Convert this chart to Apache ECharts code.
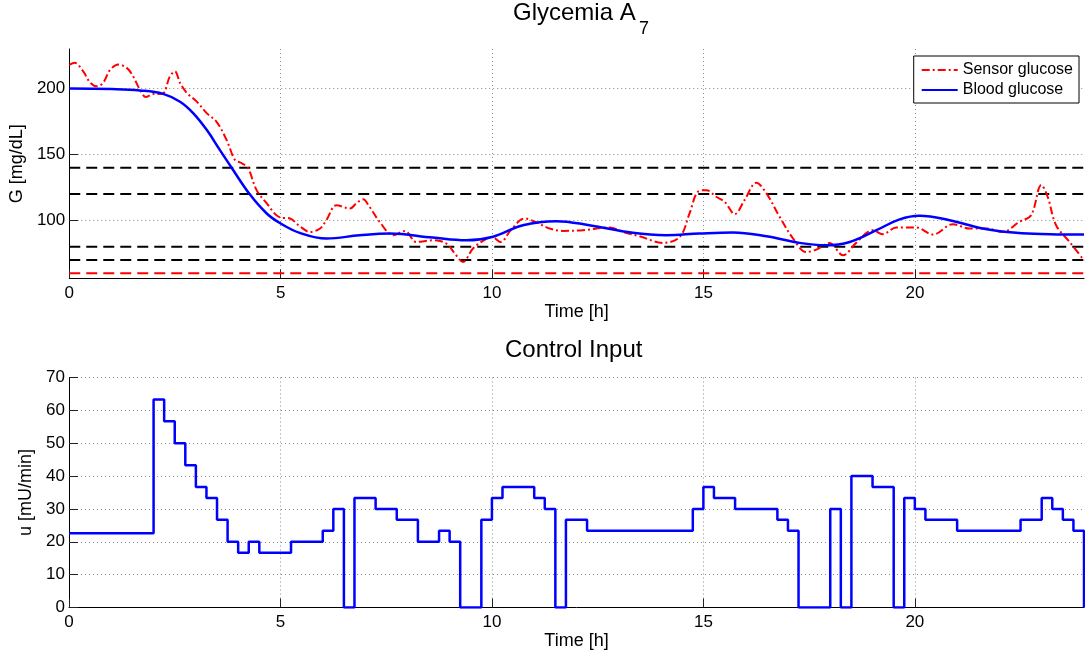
<!DOCTYPE html>
<html>
<head>
<meta charset="utf-8">
<script src="https://cdn.jsdelivr.net/npm/echarts@6/dist/echarts.min.js"></script>
<style>html,body{margin:0;padding:0;background:#fff}#c{width:1085px;height:657px}</style>
</head>
<body>
<div id="c"></div>
<script>
// ---- data ----
const timeTicks = [0, 5, 10, 15, 20];
const glucoseTicks = [100, 150, 200];
const blackThresholds = [70, 80, 120, 140];
const redThresholds = [60];

const bloodT = [0, 1.0, 1.67, 2.22, 2.62, 2.93, 3.25, 3.56, 3.84, 4.27, 4.67, 5.0, 5.45, 6.08, 6.87, 7.58, 8.6, 9.39, 10.0, 10.73, 11.52, 12.3, 13.33, 14.12, 14.9, 15.7, 16.49, 17.27, 17.9, 18.46, 19.09, 19.64, 20.11, 20.82, 21.6, 22.4, 23.2, 24];
const bloodG = [200, 199.6, 198.6, 196, 190, 181.4, 168.7, 153.5, 140, 119.8, 105.3, 97.7, 90.6, 86.3, 88.8, 90.1, 87, 85, 87.5, 96.4, 99.5, 96.4, 90.6, 88.8, 90.1, 90.9, 88, 83, 81.2, 83.7, 92.6, 100.8, 103.5, 100.2, 93.9, 90.6, 89.6, 89.3];

const sensorT = [0, 0.13, 0.33, 0.49, 0.65, 0.8, 0.96, 1.16, 1.36, 1.51, 1.67, 1.81, 1.99, 2.2, 2.38, 2.5, 2.62, 2.78, 3.01, 3.25, 3.48, 3.72, 3.92, 4.08, 4.23, 4.43, 4.67, 4.98, 5.22, 5.45, 5.69, 5.93, 6.08, 6.32, 6.64, 6.79, 6.95, 7.1, 7.34, 7.66, 7.94, 8.21, 8.6, 8.92, 9.12, 9.31, 9.55, 9.87, 10.0, 10.2, 10.45, 10.77, 11.05, 11.36, 11.68, 12.15, 12.78, 13.1, 13.49, 14.04, 14.44, 14.67, 14.87, 15.07, 15.3, 15.5, 15.74, 15.97, 16.25, 16.49, 16.8, 17.12, 17.43, 17.67, 17.98, 18.3, 18.61, 19.0, 19.24, 19.56, 20.03, 20.43, 20.9, 21.29, 21.69, 22.08, 22.47, 22.75, 22.99, 23.14, 23.34, 23.66, 24];
const sensorG = [218, 219.5, 213, 204.7, 201.7, 204.3, 213.9, 218.2, 215.7, 209.3, 199.2, 193.6, 195.9, 196, 209.3, 213, 204.3, 196.7, 190.3, 181.4, 175, 161.1, 145.9, 143.4, 139.6, 123, 113, 102.3, 101.5, 95.7, 91.3, 93.9, 100.2, 111.6, 109, 113, 116, 110.4, 99, 88.8, 92, 83.7, 85, 82.5, 74.9, 68.5, 78.7, 86.3, 87.5, 83.7, 93, 101.5, 98.5, 93.9, 92.1, 92.6, 94.7, 91.3, 88, 83, 87.5, 105.3, 121.8, 123, 118, 114.2, 104.8, 115.4, 128.6, 120.5, 102.8, 86.3, 76.1, 77.9, 83, 73.6, 83, 92.6, 89.6, 94.7, 94.7, 89.3, 97.2, 93.9, 93.9, 91.3, 99, 104, 126.9, 118, 96.4, 83.7, 69.8];

const stepT = [0, 2.0, 2.25, 2.5, 2.75, 3.0, 3.25, 3.5, 3.75, 4.0, 4.25, 4.5, 5.25, 6.0, 6.25, 6.5, 6.75, 7.25, 7.75, 8.25, 8.75, 9.0, 9.25, 9.75, 10.0, 10.25, 11.0, 11.25, 11.5, 11.75, 12.25, 14.75, 15.0, 15.25, 15.75, 16.75, 17.0, 17.25, 18.0, 18.25, 18.5, 19.0, 19.5, 19.75, 20.0, 20.25, 21.0, 22.5, 23.0, 23.25, 23.5, 23.75, 24.0, 24.0];
const stepU = [22.6, 63.33, 56.67, 50, 43.33, 36.67, 33.33, 26.67, 20, 16.67, 20, 16.67, 20, 23.33, 30, 0, 33.33, 30, 26.67, 20, 23.33, 20, 0, 26.67, 33.33, 36.67, 33.33, 30, 0, 26.67, 23.33, 30, 36.67, 33.33, 30, 26.67, 23.33, 0, 30, 0, 40, 36.67, 0, 33.33, 30, 26.67, 23.33, 26.67, 33.33, 30, 26.67, 23.33, 23.33, 0];

// ---- chart ----
const FONT = 'Liberation Sans, Arial, Helvetica, sans-serif';
const zip = (a, b) => a.map((v, i) => [v, b[i]]);
const gridLine = { show: true, lineStyle: { color: '#8c8c8c', width: 1, type: [1, 3] } };
const axisLine = { show: true, onZero: false, lineStyle: { color: '#000', width: 1 } };
const tick = { show: true, inside: true, length: 9, lineStyle: { color: '#222' } };
const lbl = { color: '#000', fontSize: 17, fontFamily: FONT };

function hLine(v, color, xAxisIndex, yAxisIndex) {
  return {
    type: 'line', xAxisIndex, yAxisIndex, data: [[0, v], [24, v]], symbol: 'none', silent: true, z: 1,
    lineStyle: { color, width: 2, type: [11, 6] }, animation: false
  };
}

const series = [];
blackThresholds.forEach(v => series.push(hLine(v, '#000', 0, 0)));
redThresholds.forEach(v => series.push(hLine(v, '#ff0000', 0, 0)));
series.push({
  name: 'Sensor glucose', type: 'line', xAxisIndex: 0, yAxisIndex: 0, data: zip(sensorT, sensorG),
  symbol: 'none', showSymbol: false, smooth: 0.35, z: 3, lineStyle: { color: '#ff0000', width: 2, type: [8, 3, 2, 3] },
  itemStyle: { color: '#ff0000' }
});
series.push({
  name: 'Blood glucose', type: 'line', xAxisIndex: 0, yAxisIndex: 0, data: zip(bloodT, bloodG),
  symbol: 'none', showSymbol: false, smooth: 0.4, z: 4, lineStyle: { color: '#0000ff', width: 2.5 },
  itemStyle: { color: '#0000ff' }
});
series.push({
  name: 'u', type: 'line', xAxisIndex: 1, yAxisIndex: 1, data: zip(stepT, stepU),
  symbol: 'none', step: 'end', z: 4, lineStyle: { color: '#0000ff', width: 2.5 }
});

const titleStyle = { fontSize: 24, fontFamily: FONT, color: '#000', fontWeight: 'normal' };
const option = {
  animation: false,
  backgroundColor: '#fff',
  title: [
    { text: 'Glycemia A', left: 513, top: 1, padding: 0, textStyle: titleStyle },
    { text: '7', left: 639, top: 20, padding: 0, textStyle: Object.assign({}, titleStyle, { fontSize: 18 }) },
    { text: 'Control Input', left: 505, top: 338, padding: 0, textStyle: titleStyle }
  ],
  legend: {
    data: ['Sensor glucose', 'Blood glucose'], orient: 'vertical', right: 6, top: 56,
    padding: [6, 6, 5, 7], itemGap: 4, itemWidth: 36, itemHeight: 16,
    borderColor: '#000', borderWidth: 1, backgroundColor: '#fff',
    itemStyle: { opacity: 0, borderWidth: 0 },
    textStyle: { fontSize: 16, fontFamily: FONT, color: '#000' }
  },
  grid: [
    { left: 69, right: 1, top: 49, height: 229.5, containLabel: false },
    { left: 69, right: 1, top: 377.5, height: 230, containLabel: false }
  ],
  xAxis: [
    {
      type: 'value', gridIndex: 0, min: 0, max: 24,
      name: 'Time [h]', nameLocation: 'middle', nameGap: 25,
      nameTextStyle: { fontSize: 18, fontFamily: FONT, color: '#000' },
      axisLine, axisTick: Object.assign({ customValues: timeTicks }, tick),
      axisLabel: Object.assign({ customValues: timeTicks, margin: 6 }, lbl),
      splitLine: gridLine
    },
    {
      type: 'value', gridIndex: 1, min: 0, max: 24,
      name: 'Time [h]', nameLocation: 'middle', nameGap: 25,
      nameTextStyle: { fontSize: 18, fontFamily: FONT, color: '#000' },
      axisLine, axisTick: Object.assign({ customValues: timeTicks }, tick),
      axisLabel: Object.assign({ customValues: timeTicks, margin: 6 }, lbl),
      splitLine: gridLine
    }
  ],
  yAxis: [
    {
      type: 'value', gridIndex: 0, min: 56, max: 230,
      name: 'G [mg/dL]', nameLocation: 'middle', nameGap: 42,
      nameTextStyle: { fontSize: 18, fontFamily: FONT, color: '#000' },
      axisLine, axisTick: Object.assign({ customValues: glucoseTicks }, tick),
      axisLabel: Object.assign({ customValues: glucoseTicks, margin: 4 }, lbl),
      splitLine: gridLine
    },
    {
      type: 'value', gridIndex: 1, min: 0, max: 70, interval: 10,
      name: 'u [mU/min]', nameLocation: 'middle', nameGap: 29,
      nameTextStyle: { fontSize: 18, fontFamily: FONT, color: '#000' },
      axisLine, axisTick: tick,
      axisLabel: Object.assign({ margin: 4 }, lbl),
      splitLine: gridLine
    }
  ],
  series
};

const chart = echarts.init(document.getElementById('c'), null, { renderer: 'canvas' });
chart.setOption(option);
</script>
</body>
</html>
